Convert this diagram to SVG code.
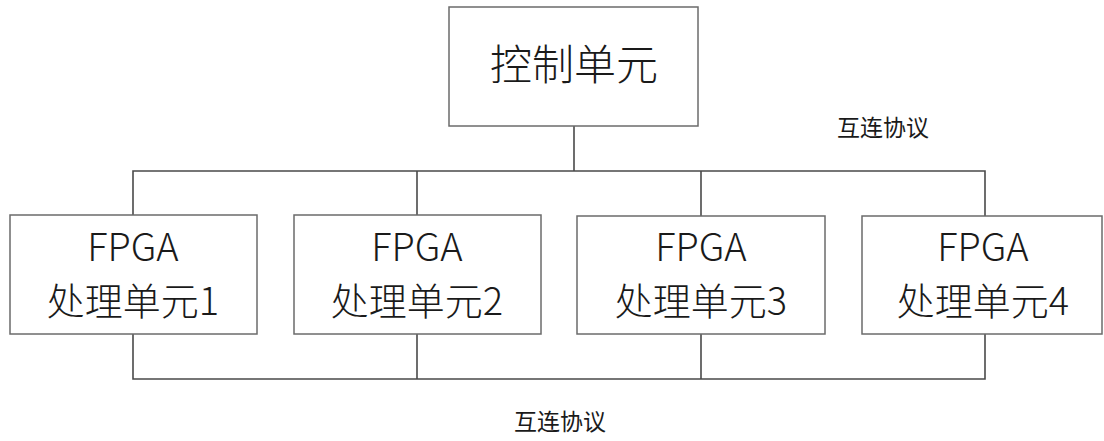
<svg xmlns="http://www.w3.org/2000/svg" width="1104" height="441" viewBox="0 0 1104 441">
<style>
.box{fill:#fff;stroke:#6b6b6b;stroke-width:1.5}
.ln{fill:none;stroke:#4a4a4a;stroke-width:1.6}
text{font-family:"Noto Sans CJK SC","Noto Sans",sans-serif;fill:#1a1a1a;text-anchor:middle}
.t{font-size:38px;font-weight:300}
.big{font-size:42px;font-weight:300}
.lbl{font-size:23px}
</style>
<rect width="1104" height="441" fill="#fff"/>
<g id="connectors">
<path class="ln" d="M574 126V171M133 215V171H985V216M417 171V215M701 171V216"/>
<path class="ln" d="M133 334V379H985V334M417 334V379M701 334V379"/>
</g>
<g id="control">
<rect class="box" x="449" y="7" width="249" height="119"/>
<text class="big" x="574" y="80">控制单元</text>
</g>
<g id="fpga1">
<rect class="box" x="10" y="215" width="247" height="119"/>
<text class="t" x="133" y="261">FPGA</text>
<text class="t" x="133" y="315">处理单元1</text>
</g>
<g id="fpga2">
<rect class="box" x="294" y="215" width="247" height="119"/>
<text class="t" x="417" y="261">FPGA</text>
<text class="t" x="417" y="315">处理单元2</text>
</g>
<g id="fpga3">
<rect class="box" x="577" y="216" width="248" height="118"/>
<text class="t" x="701" y="261">FPGA</text>
<text class="t" x="701" y="315">处理单元3</text>
</g>
<g id="fpga4">
<rect class="box" x="862" y="216" width="240" height="118"/>
<text class="t" x="983" y="261">FPGA</text>
<text class="t" x="983" y="315">处理单元4</text>
</g>
<g id="labels">
<text class="lbl" x="883" y="136">互连协议</text>
<text class="lbl" x="560" y="430">互连协议</text>
</g>
</svg>
